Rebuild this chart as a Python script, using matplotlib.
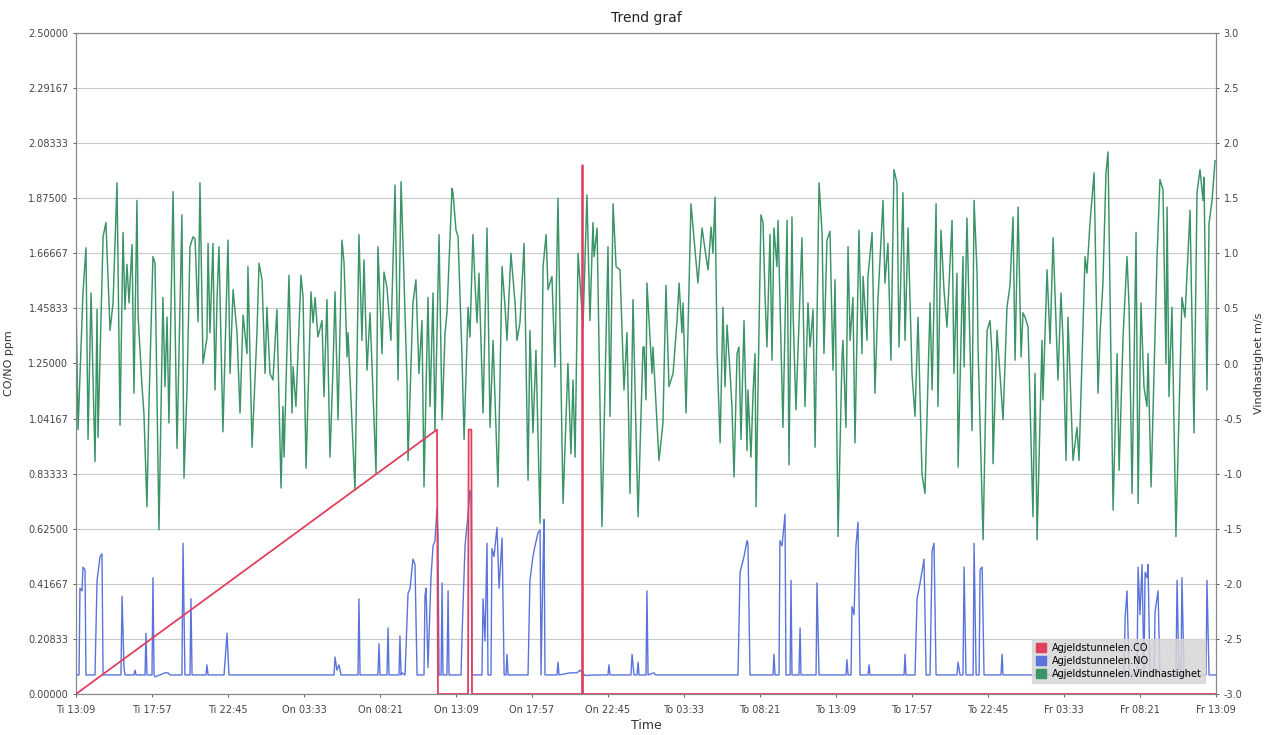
import matplotlib
matplotlib.use("Agg")
import matplotlib.pyplot as plt
import matplotlib.patches as mpatches
import numpy as np

# x-axis: hours since "Ti 13:09"
tick_hours = [0, 4.8, 9.6, 14.4, 19.2, 24, 28.8, 33.6, 38.4, 43.2, 48, 52.8, 57.6, 62.4, 67.2, 72]
tick_labels = ["Ti 13:09", "Ti 17:57", "Ti 22:45", "On 03:33", "On 08:21", "On 13:09",
               "On 17:57", "On 22:45", "To 03:33", "To 08:21", "To 13:09", "To 17:57",
               "To 22:45", "Fr 03:33", "Fr 08:21", "Fr 13:09"]

# CO (ppm)
co_t = [0, 22.80, 22.86, 24.76, 24.80, 24.97, 25.01, 31.96, 31.99, 32.02, 72]
co_v = [0, 1.00, 0.0, 0.0, 1.00, 1.00, 0.0, 0.0, 2.00, 0.0, 0.0]

# NO (ppm)
no_t = [0.00, 0.19, 0.25, 0.38, 0.44, 0.57, 0.63, 1.20, 1.33, 1.52, 1.64, 1.71,
        2.84, 2.91, 3.03, 3.09, 3.66, 3.73, 3.79, 4.36, 4.42, 4.48, 4.80, 4.86, 4.93,
        4.99, 5.62, 5.81, 5.94, 6.69, 6.76, 6.88, 7.20, 7.26, 7.33, 8.21, 8.27, 8.34,
        9.35, 9.54, 9.66, 16.30, 16.36, 16.48, 16.61, 16.74, 17.81, 17.87, 17.94,
        19.07, 19.14, 19.20, 19.64, 19.71, 19.77, 20.40, 20.46, 20.53, 20.59, 20.78,
        20.97, 21.10, 21.28, 21.41, 21.54, 21.98, 22.04, 22.11, 22.23, 22.42, 22.55,
        22.67, 22.80, 22.86, 22.93, 23.06, 23.12, 23.18, 23.43, 23.50, 23.56, 24.32,
        24.38, 24.57, 24.76, 24.88, 24.95, 25.01, 25.64, 25.71, 25.83, 25.96, 26.02,
        26.21, 26.27, 26.40, 26.59, 26.72, 26.91, 27.04, 27.16, 27.22, 27.29, 28.55,
        28.67, 28.86, 28.99, 29.18, 29.31, 29.37, 29.50, 29.56, 29.62, 30.38, 30.44,
        30.51, 31.20, 31.64, 31.83, 32.15, 32.78, 33.60, 33.66, 33.73, 35.05, 35.12,
        35.24, 35.43, 35.50, 35.56, 36.00, 36.06, 36.13, 36.51, 36.60, 41.81, 41.94, 42.19,
        42.38, 42.44, 42.57, 44.02, 44.08, 44.15, 44.40, 44.46, 44.59, 44.78, 44.84,
        45.10, 45.16, 45.22, 45.66, 45.73, 45.79, 46.74, 46.80, 46.93, 48.63, 48.69,
        48.76, 48.95, 49.01, 49.14, 49.26, 49.39, 49.52, 50.02, 50.09, 50.15, 52.30,
        52.36, 52.42, 52.99, 53.12, 53.31, 53.56, 53.69, 53.94, 54.07, 54.19, 54.32,
        55.64, 55.71, 55.83, 56.02, 56.09, 56.21, 56.66, 56.72, 56.85, 57.04, 57.10,
        57.23, 57.35, 58.42, 58.49, 58.55, 66.19, 66.26, 66.38, 66.51, 67.01, 67.08,
        67.20, 67.33, 67.45, 67.52, 67.64, 67.71, 67.83, 68.09, 68.15, 68.34, 68.46,
        69.47, 69.54, 69.66, 69.79, 69.85, 69.98, 71.37, 71.43, 71.56, 72.00]
no_v = [0.072, 0.072, 0.40, 0.39, 0.48, 0.47, 0.072, 0.072, 0.43, 0.52, 0.53, 0.072,
        0.072, 0.37, 0.10, 0.072, 0.072, 0.09, 0.072, 0.072, 0.23, 0.072, 0.072, 0.44, 0.072,
        0.065, 0.08, 0.08, 0.072, 0.072, 0.57, 0.072, 0.072, 0.36, 0.072, 0.072, 0.11, 0.072,
        0.072, 0.23, 0.072, 0.072, 0.14, 0.09, 0.11, 0.072, 0.072, 0.36, 0.072,
        0.072, 0.19, 0.072, 0.072, 0.25, 0.072, 0.072, 0.22, 0.072, 0.08, 0.072,
        0.38, 0.40, 0.51, 0.49, 0.072, 0.072, 0.37, 0.40, 0.10, 0.44, 0.56,
        0.58, 0.70, 0.60, 0.072, 0.072, 0.42, 0.072, 0.072, 0.39, 0.072, 0.072,
        0.22, 0.56, 0.68, 0.77, 0.75, 0.072, 0.072, 0.36, 0.20, 0.57, 0.072,
        0.072, 0.55, 0.52, 0.63, 0.40, 0.59, 0.072, 0.072, 0.15, 0.072, 0.072,
        0.43, 0.52, 0.56, 0.61, 0.62, 0.072, 0.50, 0.66, 0.072, 0.072, 0.12,
        0.072, 0.08, 0.08, 0.09, 0.07, 0.072, 0.072, 0.11, 0.072, 0.072, 0.15,
        0.072, 0.072, 0.12, 0.072, 0.072, 0.39, 0.072, 0.08, 0.072, 0.072, 0.46, 0.52,
        0.58, 0.57, 0.072, 0.072, 0.15, 0.072, 0.072, 0.58, 0.56, 0.68, 0.072,
        0.072, 0.43, 0.072, 0.072, 0.25, 0.072, 0.072, 0.42, 0.072, 0.072, 0.13,
        0.072, 0.072, 0.33, 0.30, 0.56, 0.65, 0.072, 0.072, 0.11, 0.072, 0.072,
        0.15, 0.072, 0.072, 0.36, 0.42, 0.51, 0.072, 0.072, 0.54, 0.57, 0.072,
        0.072, 0.12, 0.072, 0.072, 0.48, 0.072, 0.072, 0.57, 0.072, 0.072, 0.47,
        0.48, 0.072, 0.072, 0.15, 0.072, 0.072, 0.29, 0.39, 0.072, 0.072, 0.48,
        0.30, 0.49, 0.072, 0.46, 0.44, 0.49, 0.072, 0.072, 0.31, 0.39, 0.072,
        0.072, 0.43, 0.072, 0.072, 0.44, 0.072, 0.072, 0.43, 0.072, 0.072]

# Vindhastighet (m/s)
wind_t = [0.00, 0.13, 0.44, 0.63, 0.76, 0.95, 1.20, 1.33, 1.39, 1.71, 1.89, 2.15, 2.34,
          2.59, 2.78, 2.97, 3.09, 3.22, 3.35, 3.54, 3.66, 3.85, 3.92, 4.17, 4.29, 4.48,
          4.61, 4.86, 4.99, 5.24, 5.49, 5.62, 5.75, 5.87, 6.13, 6.38, 6.69, 6.82, 7.01,
          7.20, 7.39, 7.52, 7.71, 7.83, 8.02, 8.27, 8.34, 8.46, 8.65, 8.78, 8.91, 9.03,
          9.28, 9.41, 9.60, 9.73, 9.92, 10.17, 10.36, 10.55, 10.80, 10.86, 11.12, 11.43,
          11.56, 11.75, 11.94, 12.06, 12.25, 12.44, 12.69, 12.95, 13.07, 13.14, 13.45,
          13.64, 13.71, 13.89, 14.21, 14.34, 14.53, 14.84, 14.97, 15.10, 15.28, 15.54,
          15.66, 15.85, 16.04, 16.23, 16.36, 16.55, 16.80, 16.93, 17.12, 17.18, 17.62,
          17.87, 18.06, 18.19, 18.38, 18.57, 18.95, 19.07, 19.33, 19.45, 19.64, 19.89,
          20.15, 20.34, 20.53, 20.65, 20.91, 20.97, 21.28, 21.47, 21.66, 21.85, 21.98,
          22.23, 22.36, 22.55, 22.67, 22.93, 23.12, 23.31, 23.43, 23.75, 23.81, 24.00,
          24.13, 24.38, 24.51, 24.76, 24.88, 25.07, 25.20, 25.33, 25.45, 25.71, 25.96,
          26.15, 26.34, 26.65, 26.91, 27.10, 27.22, 27.47, 27.73, 27.85, 28.04, 28.30,
          28.55, 28.67, 28.86, 29.05, 29.31, 29.50, 29.69, 29.81, 30.06, 30.25, 30.44,
          30.76, 31.07, 31.26, 31.39, 31.52, 31.71, 32.02, 32.27, 32.46, 32.65, 32.72,
          32.91, 33.22, 33.47, 33.60, 33.73, 33.92, 34.11, 34.36, 34.61, 34.80, 34.99,
          35.18, 35.37, 35.50, 35.81, 35.88, 36.00, 36.06, 36.38, 36.44, 36.82, 37.07,
          37.26, 37.45, 37.71, 37.96, 38.09, 38.27, 38.34, 38.53, 38.84, 39.10, 39.28,
          39.54, 39.73, 39.92, 40.11, 40.23, 40.36, 40.49, 40.68, 40.86, 40.99, 41.12,
          41.31, 41.43, 41.56, 41.75, 41.87, 42.00, 42.19, 42.38, 42.44, 42.63, 42.76,
          42.89, 42.95, 43.26, 43.39, 43.52, 43.64, 43.83, 43.96, 44.08, 44.27, 44.34,
          44.65, 44.91, 45.03, 45.22, 45.29, 45.47, 45.85, 46.04, 46.23, 46.36, 46.55,
          46.68, 46.93, 47.12, 47.24, 47.43, 47.62, 47.81, 47.94, 48.13, 48.38, 48.44,
          48.63, 48.76, 48.89, 49.07, 49.20, 49.45, 49.64, 49.71, 49.96, 50.02, 50.28,
          50.46, 50.65, 50.97, 51.09, 51.28, 51.47, 51.66, 51.85, 51.98, 52.23, 52.36,
          52.55, 52.80, 52.99, 53.18, 53.43, 53.62, 53.94, 54.07, 54.32, 54.44, 54.63,
          54.82, 55.01, 55.33, 55.45, 55.64, 55.71, 56.02, 56.09, 56.27, 56.59, 56.72,
          56.91, 56.97, 57.29, 57.54, 57.73, 57.85, 57.92, 58.17, 58.55, 58.80, 58.99,
          59.18, 59.31, 59.50, 59.69, 59.81, 59.94, 60.13, 60.44, 60.57, 60.70, 61.01,
          61.07, 61.33, 61.52, 61.71, 62.02, 62.21, 62.34, 62.53, 62.65, 62.97, 63.22,
          63.35, 63.73, 63.85, 64.04, 64.30, 64.55, 64.68, 64.86, 65.05, 65.18, 65.50,
          65.75, 65.88, 66.13, 66.38, 66.51, 66.70, 66.95, 67.08, 67.26, 67.45, 67.64,
          67.71, 67.90, 68.02, 68.27, 68.46, 68.65, 68.84, 68.91, 69.03, 69.22, 69.47,
          69.85, 70.04, 70.36, 70.61, 70.80, 70.99, 71.18, 71.24, 71.43, 71.56, 71.75,
          71.94]
wind_v = [0.60, -0.60, 0.64, 1.05, -0.69, 0.64, -0.89, 0.49, -0.67, 1.15, 1.28, 0.30, 0.55,
          1.64, -0.56, 1.19, 0.49, 0.90, 0.55, 1.08, -0.27, 1.48, 0.44, -0.21, -0.45, -1.30,
          -0.36, 0.97, 0.91, -1.51, 0.60, -0.21, 0.42, -0.54, 1.56, -0.77, 1.35, -1.04, -0.24,
          1.06, 1.15, 1.13, 0.38, 1.64, 0.00, 0.23, 1.09, 0.28, 1.09, -0.24, 0.60, 1.06,
          -0.62, 0.10, 1.12, -0.09, 0.67, 0.28, -0.45, 0.44, 0.09, 0.88, -0.76, 0.28,
          0.91, 0.76, -0.09, 0.51, -0.09, -0.15, 0.49, -1.13, -0.39, -0.85, 0.80,
          -0.45, -0.03, -0.39, 0.80, 0.60, -0.95, 0.65, 0.37, 0.60, 0.24, 0.39,
          -0.30, 0.58, -0.85, -0.06, 0.65, -0.51, 1.12, 0.91, 0.06, 0.28, -1.15,
          1.17, 0.21, 0.94, -0.06, 0.46, -1.00, 1.06, 0.09, 0.83, 0.69, 0.21,
          1.62, -0.15, 1.65, 1.09, -0.18, -0.88, 0.55, 0.76, -0.09, 0.39, -1.12,
          0.60, -0.39, 0.64, -0.61, 1.17, -0.51, 0.28, 0.46, 1.59, 1.55, 1.21,
          1.15, 0.06, -0.69, 0.51, 0.24, 1.17, 0.73, 0.37, 0.82, -0.45, 1.23,
          -0.58, 0.21, -1.12, 0.88, 0.51, 0.21, 1.00, 0.55, 0.21, 0.37, 1.09,
          -1.06, 0.30, -0.63, 0.12, -1.45, 0.88, 1.17, 0.67, 0.79, -0.03, 1.50,
          -1.27, 0.00, -0.82, -0.15, -0.85, 1.00, 0.33, 1.53, 0.39, 1.28, 0.97,
          1.23, -1.48, 0.21, 1.06, -0.48, 1.45, 0.88, 0.85, -0.24, 0.28, -1.18,
          0.58, -0.63, -1.39, 0.15, 0.15, -0.33, 0.73, -0.09, 0.15, -0.88, -0.54,
          0.71, -0.21, -0.09, 0.39, 0.73, 0.28, 0.55, -0.45, 1.45, 1.03, 0.73,
          1.23, 1.03, 0.85, 1.24, 1.00, 1.51, 0.09, -0.72, 0.51, -0.21, 0.35,
          -0.09, -0.39, -1.03, 0.09, 0.15, -0.69, 0.39, -0.79, -0.24, -0.85, -0.27,
          0.09, -1.30, 1.35, 1.28, 0.60, 0.15, 1.17, 0.03, 1.23, 0.88, 1.30,
          -0.58, 1.30, -0.92, 1.33, 0.46, -0.42, 1.14, -0.39, 0.55, 0.15, 0.49,
          -0.76, 1.64, 1.19, 0.09, 1.12, 1.20, -0.06, 0.76, -1.57, 0.06, 0.21,
          -0.58, 1.06, 0.21, 0.60, -0.72, 1.21, 0.09, 0.79, 0.21, 0.79, 1.19,
          -0.27, 0.58, 1.48, 0.73, 1.09, 0.03, 1.76, 1.64, 0.15, 1.55, 0.21,
          1.23, -0.09, -0.48, 0.42, -1.00, -1.18, 0.55, -0.24, 1.45, -0.39, 1.21,
          0.67, 0.33, 1.30, -0.09, 0.82, -0.94, 0.97, -0.03, 1.32, -0.61, 1.48,
          0.82, 0.15, -1.60, 0.30, 0.39, 0.09, -0.91, 0.30, -0.51, 0.51, 0.71,
          1.33, 0.03, 1.42, 0.06, 0.46, 0.42, 0.33, -1.39, -0.09, -1.60, 0.21,
          -0.33, 0.85, 0.18, 1.14, -0.15, 0.64, 0.21, -0.88, 0.42, -0.88, -0.58,
          -0.88, 0.97, 0.82, 1.27, 1.73, -0.27, 0.28, 0.73, 1.73, 1.92, -1.33,
          0.09, -0.97, 0.24, 0.97, 0.51, -1.18, 1.19, -1.27, 0.55, -0.21, -0.39,
          0.09, -1.12, -0.45, 0.94, 1.67, 1.58, 0.00, 1.42, -0.30, 0.51, -1.57,
          0.60, 0.42, 1.39, -0.63, 1.55, 1.76, 1.48, 1.69, -0.24, 1.27, 1.48,
          1.84]

left_ticks = np.linspace(0, 2.5, 13)
right_ticks = np.linspace(-3.0, 3.0, 13)

bg = "#c0c0c0"
grid_c = "#c9c9c9"
green = "#3b9467"
blue = "#5b74dc"
red = "#e0405e"

fig = plt.figure(figsize=(12.65, 7.35), dpi=100)
ax = fig.add_axes([76 / 1265, 1 - 694 / 735, 1140 / 1265, 661 / 735])
ax2 = ax.twinx()

# wind on the right axis, drawn underneath
ax.set_zorder(ax2.get_zorder() + 1)
ax.patch.set_visible(False)
ax2.set_facecolor(bg)
ax2.plot(wind_t, wind_v, color=green, lw=1.05, zorder=3)
ax2.set_ylim(-3.0, 3.0)
ax2.set_yticks(right_ticks)
ax2.set_yticklabels(["%.1f" % v for v in right_ticks])
ax2.set_ylabel("Vindhastighet m/s", fontsize=8, color="#333333", labelpad=8)
ax2.set_axisbelow(True)
ax2.grid(True, color=grid_c, lw=0.8)
ax2.xaxis.grid(True)

ax.plot(no_t, no_v, color=blue, lw=1.0, zorder=3)
ax.plot(co_t, co_v, color=red, lw=1.3, zorder=4)
ax.set_xlim(0, 72)
ax.set_ylim(0, 2.5)
ax.set_xticks(tick_hours)
ax.set_xticklabels(tick_labels)
ax.set_yticks(left_ticks)
ax.set_yticklabels(["%.5f" % v for v in left_ticks])
ax.set_ylabel("CO/NO ppm", fontsize=8, color="#333333", labelpad=10)
ax.set_xlabel("Time", fontsize=9, color="#333333", labelpad=3)
ax.set_title("Trend graf", fontsize=10, color="#222222", pad=8)
ax2.set_xticks(tick_hours)

for a in (ax, ax2):
    a.tick_params(labelsize=7, colors="#444444", length=2, width=0.6)
    for s in a.spines.values():
        s.set_color("#888888")
        s.set_linewidth(0.8)
ax.tick_params(axis="x", pad=6)

handles = [mpatches.Patch(color=red, label="Agjeldstunnelen.CO"),
           mpatches.Patch(color=blue, label="Agjeldstunnelen.NO"),
           mpatches.Patch(color=green, label="Agjeldstunnelen.Vindhastighet")]
leg = ax.legend(handles=handles, loc="lower right", bbox_to_anchor=(0.995, 0.01),
                fontsize=7, frameon=True, fancybox=False, handlelength=1.0,
                handleheight=1.0, handletextpad=0.6, borderpad=0.4, labelspacing=0.3)
leg.get_frame().set_facecolor("#d6d6d6")
leg.get_frame().set_edgecolor("#d6d6d6")
leg.get_frame().set_alpha(0.85)

fig.savefig("out.png", dpi=100)
